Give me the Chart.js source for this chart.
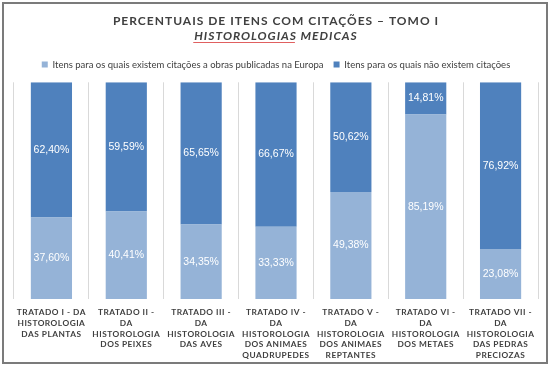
<!DOCTYPE html>
<html><head><meta charset="utf-8">
<script src="https://cdn.jsdelivr.net/npm/chart.js@4"></script>
<style>html,body{margin:0;padding:0;background:#fff}#wrap{width:550px;height:368px;position:relative}</style>
</head><body><div id="wrap"><canvas id="c" width="550" height="368"></canvas></div>
<script>
const categories = [
  ['TRATADO I - DA','HISTOROLOGIA','DAS PLANTAS'],
  ['TRATADO II -','DA','HISTOROLOGIA','DOS PEIXES'],
  ['TRATADO III -','DA','HISTOROLOGIA','DAS AVES'],
  ['TRATADO IV -','DA','HISTOROLOGIA','DOS ANIMAES','QUADRUPEDES'],
  ['TRATADO V -','DA','HISTOROLOGIA','DOS ANIMAES','REPTANTES'],
  ['TRATADO VI -','DA','HISTOROLOGIA','DOS METAES'],
  ['TRATADO VII -','DA','HISTOROLOGIA','DAS PEDRAS','PRECIOZAS']
];
const withCitations = [37.60, 40.41, 34.35, 33.33, 49.38, 85.19, 23.08];
const withoutCitations = [62.40, 59.59, 65.65, 66.67, 50.62, 14.81, 76.92];
const seriesNames = [
  'Itens para os quais existem citações a obras publicadas na Europa',
  'Itens para os quais não existem citações'
];
const titleText = 'PERCENTUAIS DE ITENS COM CITAÇÕES – TOMO I';
const subtitleText = 'HISTOROLOGIAS MEDICAS';
const underlinedWord = 'HISTOROLOGIAS';

const TEXT = '#404040';
const TITLE_SPACING = '1px';
const TICK_SPACING = '0.5px';
const TITLE_FONT = {family: 'Lato', size: 12, weight: 'bold', lineHeight: 1.2};

const spacingPlugin = {
  id: 'spacing',
  beforeDraw(chart) { chart.ctx.letterSpacing = TITLE_SPACING; },
  afterDatasetsDraw(chart) {
    const ctx = chart.ctx;
    ctx.save();
    ctx.letterSpacing = '0px';
    ctx.fillStyle = '#ffffff';
    ctx.font = '10.5px "Liberation Sans", Arial, sans-serif';
    ctx.textAlign = 'center';
    ctx.textBaseline = 'middle';
    chart.data.datasets.forEach((ds, di) => {
      const meta = chart.getDatasetMeta(di);
      meta.data.forEach((bar, i) => {
        const v = ds.data[i];
        const txt = v.toFixed(2).replace('.', ',') + '%';
        ctx.fillText(txt, bar.x, (bar.y + bar.base) / 2);
      });
    });
    ctx.restore();
  },
  afterDraw(chart) {
    const ctx = chart.ctx;
    ctx.save();
    ctx.letterSpacing = TITLE_SPACING;
    ctx.font = 'italic bold ' + TITLE_FONT.size + 'px Lato';
    const full = ctx.measureText(subtitleText).width;
    const w = ctx.measureText(underlinedWord).width;
    const x0 = chart.width / 2 - full / 2;
    const sub = chart.boxes.find(b => b.options && b.options.text === subtitleText);
    let y = 41.5;
    if (sub) { y = sub.top + sub.options.padding.top + TITLE_FONT.size * TITLE_FONT.lineHeight / 2 + 5.5; }
    ctx.strokeStyle = '#e06060';
    ctx.lineWidth = 1;
    ctx.beginPath();
    ctx.moveTo(x0, Math.round(y) + 0.5);
    ctx.lineTo(x0 + w - 1, Math.round(y) + 0.5);
    ctx.stroke();
    ctx.letterSpacing = '0px';
    ctx.strokeStyle = '#7b7b7b';
    ctx.lineWidth = 2;
    ctx.strokeRect(3, 3, 544, 360);
    ctx.restore();
    ctx.letterSpacing = '0px';
  }
};

const chart = new Chart(document.getElementById('c'), {
  type: 'bar',
  data: {
    labels: categories,
    datasets: [
      {label: seriesNames[0], data: withCitations, backgroundColor: '#95B3D7', borderWidth: 0},
      {label: seriesNames[1], data: withoutCitations, backgroundColor: '#4F81BD', borderWidth: 0}
    ]
  },
  options: {
    responsive: false,
    animation: false,
    devicePixelRatio: 1,
    layout: {padding: {left: 14, right: 12, top: 0, bottom: 0}},
    datasets: {bar: {categoryPercentage: 1, barPercentage: 0.55}},
    plugins: {
      tooltip: {enabled: false},
      title: {display: true, text: titleText, color: TEXT, font: TITLE_FONT, padding: {top: 14, bottom: 0}},
      subtitle: {display: true, text: subtitleText, color: TEXT, font: Object.assign({}, TITLE_FONT, {style: 'italic'}), padding: {top: 1, bottom: 6}},
      legend: {
        position: 'top',
        labels: {boxWidth: 6, boxHeight: 6, color: TEXT, font: {family: 'Lato', size: 9.5}, padding: 10}
      }
    },
    scales: {
      x: {
        stacked: true,
        grid: {display: true, color: '#d9d9d9', offset: true, drawTicks: false},
        border: {display: false},
        ticks: {color: TEXT, font: {family: 'Lato', size: 8.3, weight: 'bold', lineHeight: 1.3}, padding: 8, maxRotation: 0, minRotation: 0, autoSkip: false},
        afterFit(scale) { scale.height = 69; }
      },
      y: {stacked: true, min: 0, max: 100, display: false}
    }
  },
  plugins: [spacingPlugin]
});
const lg = chart.legend;
const origLegendDraw = lg.draw.bind(lg);
lg.draw = function(a) {
  const c = chart.ctx; const prev = c.letterSpacing;
  c.letterSpacing = '0px'; origLegendDraw(a); c.letterSpacing = prev;
};
const origLegendFit = lg.fit.bind(lg);
lg.fit = function() {
  const c = chart.ctx; const prev = c.letterSpacing;
  c.letterSpacing = '0px'; origLegendFit(); c.letterSpacing = prev;
  this.height += 3;
};
const xs = chart.scales.x;
const origDrawLabels = xs.drawLabels.bind(xs);
xs.drawLabels = function(a) {
  const c = chart.ctx; const prev = c.letterSpacing;
  c.letterSpacing = TICK_SPACING; origDrawLabels(a); c.letterSpacing = prev;
};
chart.update();
</script></body></html>
